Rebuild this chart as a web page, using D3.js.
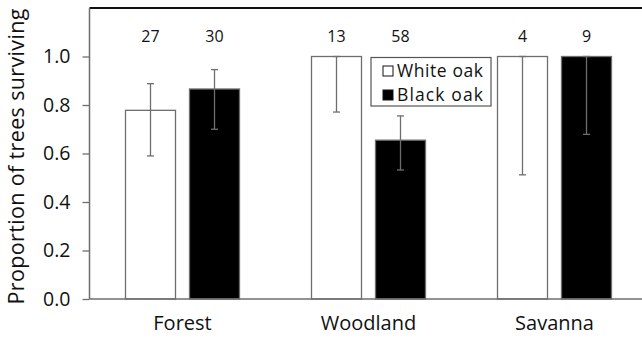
<!DOCTYPE html>
<html>
<head>
<meta charset="utf-8">
<script src="https://cdn.jsdelivr.net/npm/d3@7"></script>
<style>
  html, body { margin: 0; padding: 0; background: #fff; }
  svg { display: block; font-family: "Open Sans", "Noto Sans", sans-serif; }
</style>
</head>
<body>
<svg id="chart" width="642" height="340"></svg>
<script>
// Survival of oak seedlings by habitat
const habitats = ["Forest", "Woodland", "Savanna"];
const species = ["White oak", "Black oak"];
const whiteOak = [0.778, 1.0, 1.0];
const blackOak = [0.866, 0.655, 1.0];
const whiteLower = [0.59, 0.771, 0.512];
const whiteUpper = [0.888, 1.0, 1.0];
const blackLower = [0.70, 0.532, 0.679];
const blackUpper = [0.946, 0.755, 1.0];
const sampleSizes = [[27, 30], [13, 58], [4, 9]];
const yTicks = [0, 0.2, 0.4, 0.6, 0.8, 1.0];

const svg = d3.select("#chart");
const m = { left: 89.5, top: 8, bottom: 299 };
const plotRight = 647.5;

const x = d3.scaleBand().domain(habitats).range([m.left, plotRight]);
const xs = d3.scaleBand().domain(species).range([0, x.bandwidth()])
  .paddingInner(14 / 64).paddingOuter(36 / 64);
const y = d3.scaleLinear().domain([0, 1.2]).range([m.bottom, m.top]);

const rows = habitats.map((h, i) => ({
  habitat: h,
  bars: [
    { sp: species[0], v: whiteOak[i], lo: whiteLower[i], hi: whiteUpper[i], n: sampleSizes[i][0], fill: "#ffffff" },
    { sp: species[1], v: blackOak[i], lo: blackLower[i], hi: blackUpper[i], n: sampleSizes[i][1], fill: "#000000" }
  ]
}));

const grey = "#6e6e6e";

// top frame line
svg.append("line")
  .attr("x1", m.left).attr("x2", 642)
  .attr("y1", m.top).attr("y2", m.top)
  .attr("stroke", "#111").attr("stroke-width", 2);

const groups = svg.selectAll("g.habitat").data(rows).join("g")
  .attr("class", "habitat")
  .attr("transform", d => `translate(${x(d.habitat)},0)`);

const bar = groups.selectAll("g.bar").data(d => d.bars).join("g").attr("class", "bar");

bar.append("rect")
  .attr("x", d => xs(d.sp))
  .attr("width", xs.bandwidth())
  .attr("y", d => y(d.v))
  .attr("height", d => y(0) - y(d.v))
  .attr("fill", d => d.fill)
  .attr("stroke", grey).attr("stroke-width", 1.3);

// error bars
const cx = d => xs(d.sp) + xs.bandwidth() / 2;
bar.append("line")
  .attr("x1", cx).attr("x2", cx)
  .attr("y1", d => y(d.lo)).attr("y2", d => y(d.hi))
  .attr("stroke", grey).attr("stroke-width", 1.3);
bar.append("line")
  .attr("x1", d => cx(d) - 3.5).attr("x2", d => cx(d) + 3.5)
  .attr("y1", d => y(d.lo)).attr("y2", d => y(d.lo))
  .attr("stroke", grey).attr("stroke-width", 1.3);
bar.append("line")
  .attr("x1", d => cx(d) - 3.5).attr("x2", d => cx(d) + 3.5)
  .attr("y1", d => y(d.hi)).attr("y2", d => y(d.hi))
  .attr("stroke", grey).attr("stroke-width", 1.3);

// sample sizes
bar.append("text")
  .attr("x", cx).attr("y", 42)
  .attr("text-anchor", "middle")
  .attr("font-size", 16).attr("fill", "#111")
  .text(d => d.n);

// y axis
const yAxis = svg.append("g")
  .attr("transform", `translate(${m.left},0)`)
  .call(d3.axisLeft(y).tickValues(yTicks).tickFormat(d3.format(".1f")).tickSize(7).tickPadding(12));
yAxis.select(".domain").attr("stroke", grey).attr("stroke-width", 1.5)
  .attr("d", `M0,${m.top}V${m.bottom}`);
yAxis.selectAll(".tick line").attr("stroke", grey).attr("stroke-width", 1.3);
yAxis.selectAll(".tick text").attr("font-size", 19.5).attr("fill", "#111")
  .attr("font-family", "Open Sans, sans-serif");

// x axis
const xAxis = svg.append("g")
  .attr("transform", `translate(0,${m.bottom})`)
  .call(d3.axisBottom(x).tickSize(0).tickPadding(17));
xAxis.select(".domain").attr("stroke", grey).attr("stroke-width", 1.5)
  .attr("d", `M${m.left},0H642`);
xAxis.selectAll(".tick text").attr("font-size", 20).attr("fill", "#111")
  .attr("font-family", "Open Sans, sans-serif");

// y axis title
svg.append("text")
  .attr("transform", `translate(24,${(8 + 305) / 2}) rotate(-90)`)
  .attr("text-anchor", "middle")
  .attr("font-size", 21.5).attr("fill", "#111")
  .attr("textLength", 296).attr("lengthAdjust", "spacing")
  .text("Proportion of trees surviving");

// legend
const lg = svg.append("g").attr("transform", "translate(371,57.5)");
lg.append("rect").attr("width", 120).attr("height", 48.5)
  .attr("fill", "#fff").attr("stroke", "#555").attr("stroke-width", 1.2);
const li = lg.selectAll("g.item").data(species).join("g")
  .attr("class", "item")
  .attr("transform", (d, i) => `translate(0,${12.5 + i * 24})`);
li.append("rect").attr("x", 12).attr("y", -4).attr("width", 10).attr("height", 10)
  .attr("fill", (d, i) => i === 0 ? "#fff" : "#000")
  .attr("stroke", "#111").attr("stroke-width", 1);
li.append("text").attr("x", 26).attr("y", 6.5)
  .attr("font-size", 17.5).attr("fill", "#111")
  .attr("textLength", 86).attr("lengthAdjust", "spacing")
  .text(d => d);
</script>
</body>
</html>
